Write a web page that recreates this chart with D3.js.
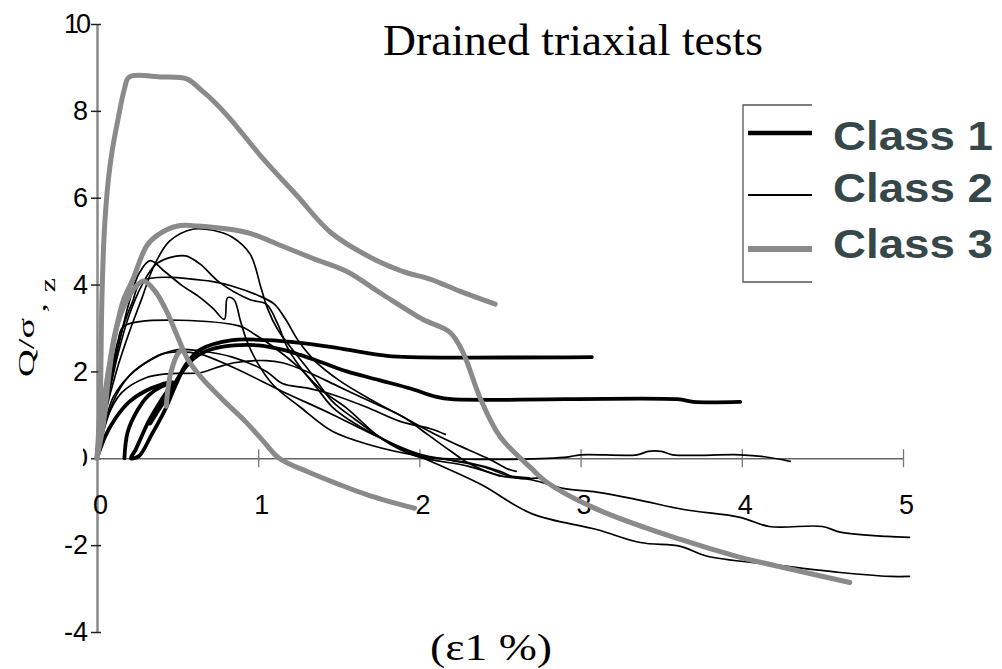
<!DOCTYPE html>
<html><head><meta charset="utf-8">
<script src="https://cdn.jsdelivr.net/npm/d3@7"></script>
<style>body{margin:0;background:#fff}svg{display:block}</style>
</head><body><svg id="c" width="1002" height="669"></svg>
<script>
const titleText = "Drained triaxial tests";
const xLabel = "(ε1 %)";
const xTicks = [0, 1, 2, 3, 4, 5];
const yTicks = [10, 8, 6, 4, 2, 0, -2, -4];
const classNames = ["Class 1", "Class 2", "Class 3"];

// Class 1 (thick black)
const class1a = [[0.17,0],[0.19,0.6],[0.25,1.1],[0.32,1.45],[0.4,1.65],[0.46,1.72],[0.4,1.35],[0.32,0.85],[0.24,0.2],[0.21,0.0],[0.26,0.05],[0.34,0.55],[0.42,1.1],[0.49,1.7],[0.55,2.15],[0.64,2.5],[0.84,2.72],[1.05,2.72],[1.26,2.66],[1.46,2.56],[1.65,2.44],[1.8,2.36],[1.94,2.33],[3.07,2.33]];
const class1b = [[0,0],[0.05,0.5],[0.12,0.95],[0.2,1.3],[0.3,1.55],[0.4,1.7],[0.47,1.75],[0.42,1.4],[0.36,1.0],[0.33,0.8],[0.38,1.1],[0.45,1.5],[0.52,1.95],[0.6,2.3],[0.7,2.5],[0.85,2.6],[1.0,2.6],[1.15,2.5],[1.26,2.38],[1.4,2.2],[1.55,2.0],[1.75,1.8],[1.95,1.6],[2.1,1.42],[2.2,1.36],[3.6,1.36],[3.7,1.3],[3.99,1.3]];

// Class 2 (thin black)
const class2a = [[0,0],[0.05,1.0],[0.12,2.0],[0.2,2.9],[0.28,3.7],[0.35,4.4],[0.45,5.0],[0.6,5.28],[0.72,5.25],[0.84,5.09],[0.95,4.7],[1.02,3.89],[1.06,3.43],[1.12,2.97],[1.2,2.56],[1.32,2.0],[1.46,1.31],[1.6,0.9],[1.75,0.5],[1.9,0.2],[2.05,0.03],[2.9,0.02],[3.0,0.08],[3.35,0.08],[3.42,0.16],[3.5,0.16],[3.57,0.08],[3.99,0.08],[4.15,0.03],[4.3,-0.07]];
const class2b = [[0,0],[0.06,1.2],[0.13,2.4],[0.2,3.3],[0.28,4.0],[0.36,4.45],[0.45,4.62],[0.55,4.66],[0.64,4.47],[0.76,4.05],[0.95,3.65],[1.05,3.55],[1.12,3.1],[1.18,2.56],[1.26,2.1],[1.36,1.64],[1.46,1.18],[1.6,0.8],[1.8,0.4],[2.0,0.1],[2.2,-0.05],[2.4,-0.2],[2.55,-0.4],[2.68,-0.45]];
const class2c = [[0,0],[0.07,1.5],[0.14,2.7],[0.2,3.6],[0.26,4.25],[0.33,4.55],[0.42,4.3],[0.52,4.0],[0.64,3.7],[0.72,3.45],[0.79,3.2],[0.81,3.7],[0.85,3.65],[0.89,3.16],[0.93,2.7],[0.99,2.23],[1.09,1.7],[1.26,1.18],[1.46,0.62],[1.7,0.3],[2.0,0.05],[2.3,-0.1],[2.5,-0.3],[2.6,-0.45],[2.75,-0.45]];
const class2d = [[0,0],[0.05,1.2],[0.1,2.1],[0.16,3.0],[0.22,3.6],[0.28,4.08],[0.7,4.08],[0.85,3.95],[1.0,3.75],[1.1,3.55],[1.17,3.2],[1.25,2.7],[1.35,2.25],[1.5,1.8],[1.7,1.35],[1.9,0.95],[2.1,0.55],[2.3,0.2],[2.45,-0.05],[2.55,-0.25],[2.6,-0.3]];
const class2e = [[0,0],[0.04,1.0],[0.09,2.0],[0.13,2.7],[0.17,3.05],[0.88,3.05],[0.98,2.85],[1.1,2.55],[1.25,2.1],[1.4,1.55],[1.55,1.15],[1.77,0.44],[1.98,0.05],[2.3,-0.18],[2.5,-0.41]];
const class2f = [[0,0],[0.06,0.9],[0.15,1.5],[0.3,1.85],[0.45,1.95],[0.64,1.97],[0.75,2.1],[0.85,2.2],[1.05,2.25],[1.15,2.2],[1.3,2.0],[1.5,1.65],[1.7,1.3],[1.9,0.95],[2.05,0.55],[2.2,0.15],[2.3,-0.1],[2.5,-0.4],[2.7,-0.5],[2.9,-0.7],[3.1,-0.78],[3.35,-0.95],[3.64,-1.18],[3.99,-1.36],[4.17,-1.57],[4.5,-1.57],[4.61,-1.7],[4.9,-1.8],[5.04,-1.82]];
const class2g = [[0,0],[0.05,0.8],[0.1,1.4],[0.2,1.9],[0.35,2.3],[0.5,2.5],[0.64,2.47],[0.84,2.33],[1.05,2.0],[1.15,1.72],[1.3,1.62],[1.46,1.47],[1.67,1.18],[1.88,0.85],[2.07,0.68],[2.16,0.55]];
const class2h = [[0,0],[0.1,1.3],[0.2,1.9],[0.3,2.2],[0.4,2.4],[0.5,2.45],[0.64,2.4],[0.84,2.1],[1.15,1.54],[1.46,1.01],[1.67,0.62],[1.88,0.25],[2.07,-0.07],[2.38,-0.6],[2.7,-1.28],[3.1,-1.64],[3.37,-1.94],[3.62,-2.03],[3.78,-2.25],[4.19,-2.45],[4.61,-2.63],[4.92,-2.72],[5.04,-2.72]];

// Class 3 (thick grey)
const class3a = [[0,0],[0.02,1.4],[0.03,3.6],[0.045,5.2],[0.07,6.4],[0.095,7.1],[0.13,7.8],[0.17,8.5],[0.2,8.78],[0.4,8.78],[0.56,8.73],[0.64,8.5],[0.73,8.2],[0.83,7.8],[1.03,6.9],[1.24,6.05],[1.45,5.2],[1.71,4.6],[1.9,4.3],[2.07,4.12],[2.25,3.85],[2.47,3.55]];
const class3b = [[0,0],[0.04,0.8],[0.07,1.8],[0.1,2.6],[0.16,3.6],[0.22,4.1],[0.31,4.9],[0.38,5.15],[0.5,5.35],[0.62,5.35],[0.93,5.2],[1.14,4.9],[1.34,4.6],[1.55,4.3],[1.76,3.8],[2.02,3.2],[2.19,2.9],[2.27,2.44],[2.38,1.36],[2.5,0.5],[2.7,-0.25],[2.79,-0.55],[3.1,-1.17],[3.62,-1.87],[3.99,-2.28],[4.3,-2.55],[4.67,-2.86]];
const class3c = [[0,0],[0.03,1.0],[0.07,2.0],[0.12,3.0],[0.18,3.6],[0.24,3.95],[0.29,4.08],[0.36,3.85],[0.43,3.4],[0.5,2.8],[0.56,2.3],[0.65,1.85],[0.78,1.35],[0.92,0.85],[1.03,0.4],[1.13,0.0],[1.3,-0.3],[1.5,-0.6],[1.7,-0.87],[1.97,-1.15]];
const class3d = [[0.43,1.2],[0.44,1.6],[0.46,2.0],[0.5,2.4],[0.53,2.5]];

const class1Series = [class1a, class1b];
const class2Series = [class2a, class2b, class2c, class2d, class2e, class2f, class2g, class2h];
const class3Series = [class3a, class3b, class3c, class3d];

const svg = d3.select("#c");
const x = d3.scaleLinear().domain([0, 5]).range([97, 903]);
const y = d3.scaleLinear().domain([-4, 10]).range([632, 24]);
const line = d3.line().x(d => x(d[0])).y(d => y(d[1])).curve(d3.curveCatmullRom.alpha(0.5));
const numFmt = d => String(d);

// Y axis
const yAxis = svg.append("g").attr("transform", `translate(${x(0)},0)`)
  .call(d3.axisLeft(y).tickValues(yTicks).tickSize(6).tickSizeOuter(0).tickPadding(3).tickFormat(numFmt));
yAxis.attr("font-size", null).attr("font-family", null);
yAxis.select(".domain").attr("stroke", "#8a8a8a").attr("stroke-width", 2.5);
yAxis.selectAll(".tick line").attr("x1", 4).attr("stroke", "#222").attr("stroke-width", 1.5);
yAxis.selectAll(".tick text").style("font-family", "'Liberation Sans', Arial, sans-serif").style("font-size", "27px").attr("fill", "#000")
  .attr("letter-spacing", d => d === 10 ? -3 : 0);
svg.append("clipPath").attr("id", "zeroClip").append("rect").attr("x", -14).attr("y", -30).attr("width", 30).attr("height", 60);
yAxis.selectAll(".tick").filter(d => d === 0).select("text").attr("clip-path", "url(#zeroClip)");

// X axis
const xAxis = svg.append("g").attr("transform", `translate(0,${y(0)})`)
  .call(d3.axisBottom(x).tickValues(xTicks).tickSize(9).tickSizeOuter(0).tickFormat(numFmt));
xAxis.attr("font-size", null).attr("font-family", null);
xAxis.select(".domain").attr("stroke", "#666").attr("stroke-width", 1.5);
xAxis.selectAll(".tick line").attr("y1", -9).attr("stroke", "#777").attr("stroke-width", 1.3);
xAxis.selectAll(".tick").filter(d => d === 0).select("line").remove();
xAxis.selectAll(".tick text").style("font-family", "'Liberation Sans', Arial, sans-serif").style("font-size", "27px").attr("fill", "#000")
  .attr("x", 3).attr("y", 56).attr("dy", 0);

// Curves
const g = svg.append("g").attr("fill", "none").attr("stroke-linejoin", "round").attr("stroke-linecap", "round");
g.selectAll(".c2").data(class2Series).join("path").attr("class", "c2").attr("d", line).attr("stroke", "#000").attr("stroke-width", 1.7);
g.selectAll(".c1").data(class1Series).join("path").attr("class", "c1").attr("d", line).attr("stroke", "#000").attr("stroke-width", 3.8);
g.selectAll(".c3").data(class3Series).join("path").attr("class", "c3").attr("d", line).attr("stroke", "#8a8a8a").attr("stroke-width", 5);

// Title
svg.append("text").attr("x", 383).attr("y", 55).attr("font-family", "Liberation Serif, Times New Roman, serif")
  .attr("font-size", 44).attr("textLength", 380).attr("lengthAdjust", "spacingAndGlyphs").attr("fill", "#000").text(titleText);

// X label
svg.append("text").attr("x", 430).attr("y", 660).attr("font-family", "Liberation Serif, Times New Roman, serif")
  .attr("font-size", 38).attr("textLength", 122).attr("lengthAdjust", "spacingAndGlyphs").attr("fill", "#000").text(xLabel);

// Y label
const yl = svg.append("text").attr("transform", "translate(34,377) rotate(-90) scale(1.6,1)")
  .attr("font-family", "Liberation Serif, Times New Roman, serif").attr("font-size", 24).attr("fill", "#000");
yl.append("tspan").text("Q/σ");
yl.append("tspan").attr("x", 39).attr("dy", 24).text("’");
yl.append("tspan").attr("x", 53).attr("dy", -3).attr("font-size", 20).text("z");

// Legend
const leg = svg.append("g");
leg.append("path").attr("d", "M812,105H743V282H812").attr("fill", "none").attr("stroke", "#555").attr("stroke-width", 1.3);
const legY = [133, 195, 249];
const legW = [4.5, 2, 6];
const legC = ["#000", "#000", "#8a8a8a"];
const textY = [150, 202, 258];
classNames.forEach((name, i) => {
  leg.append("line").attr("x1", 748).attr("x2", 812).attr("y1", legY[i]).attr("y2", legY[i])
    .attr("stroke", legC[i]).attr("stroke-width", legW[i]);
  leg.append("text").attr("x", 833).attr("y", textY[i]).attr("font-family", "Liberation Sans, Arial, sans-serif")
    .attr("font-weight", "bold").attr("font-size", 40).attr("textLength", 160).attr("lengthAdjust", "spacingAndGlyphs")
    .attr("fill", "#36474a").text(name);
});
</script></body></html>
